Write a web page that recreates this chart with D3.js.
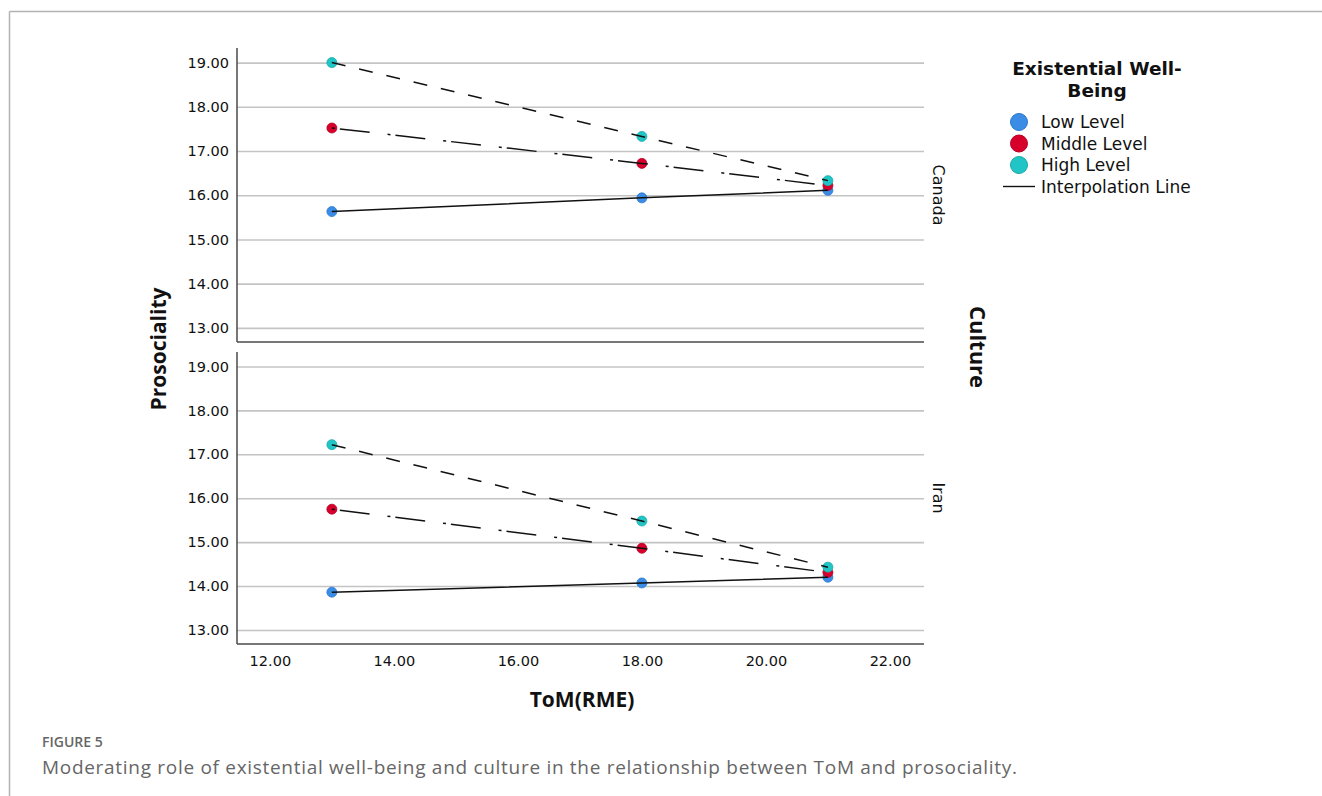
<!DOCTYPE html>
<html>
<head>
<meta charset="utf-8">
<script src="https://cdn.jsdelivr.net/npm/d3@7/dist/d3.min.js"></script>
<style>
  html, body { margin: 0; padding: 0; background: #fff; }
  svg { display: block; }
</style>
</head>
<body>
<svg id="chart" width="1322" height="796"></svg>
<script>
// ---- data ----
const tomValues = [13, 18, 21];
const cultures = ["Canada", "Iran"];
const levels = ["Low Level", "Middle Level", "High Level"];
const canadaLow = [15.63, 15.94, 16.11];
const canadaMiddle = [17.52, 16.72, 16.22];
const canadaHigh = [19.00, 17.33, 16.33];
const iranLow = [13.86, 14.07, 14.20];
const iranMiddle = [15.75, 14.86, 14.31];
const iranHigh = [17.22, 15.48, 14.43];
const yTicks = [13, 14, 15, 16, 17, 18, 19];
const xTicks = [12, 14, 16, 18, 20, 22];
const legendTitle = ["Existential Well-", "Being"];
const interpLabel = "Interpolation Line";
const xTitle = "ToM(RME)";
const yTitle = "Prosociality";
const facetTitle = "Culture";
const figLabel = "FIGURE 5";
const caption = "Moderating role of existential well-being and culture in the relationship between ToM and prosociality.";

const seriesByCulture = {
  Canada: [canadaLow, canadaMiddle, canadaHigh],
  Iran: [iranLow, iranMiddle, iranHigh]
};
const levelColors = ["#3a8ce4", "#d7002b", "#22c5c5"];
const levelStroke = ["#2c78cf", "#b80024", "#1aabab"];
const levelDash = [null, "3,5,30,18", "14,14"];

// ---- layout ----
const svg = d3.select("#chart");
const plotLeft = 237, plotRight = 924;
const panels = [{top: 48, bottom: 342}, {top: 352, bottom: 644}];
const tickFont = "'DejaVu Sans', Verdana, sans-serif";
const boldFont = "'Open Sans', sans-serif";

// frame (top and left edges)
svg.append("line").attr("x1", 9.5).attr("x2", 1322).attr("y1", 11.5).attr("y2", 11.5)
  .attr("stroke", "#b3b3b3").attr("stroke-width", 1.5);
svg.append("line").attr("x1", 9.5).attr("x2", 9.5).attr("y1", 11.5).attr("y2", 796)
  .attr("stroke", "#b3b3b3").attr("stroke-width", 1.5);

const x = d3.scaleLinear().domain([11.47, 22.55]).range([plotLeft, plotRight]);

cultures.forEach((c, ci) => {
  const p = panels[ci];
  const y = d3.scaleLinear().domain([12.68, 19.33]).range([p.bottom, p.top]);
  const g = svg.append("g");

  // y axis with gridlines
  const ya = g.append("g").attr("transform", `translate(${plotLeft},0)`)
    .call(d3.axisLeft(y).tickValues(yTicks).tickFormat(d3.format(".2f"))
      .tickSize(-(plotRight - plotLeft)).tickPadding(8));
  ya.select(".domain").remove();
  ya.selectAll(".tick line").attr("stroke", "#c4c4c4").attr("stroke-width", 1.6);
  ya.selectAll(".tick text").attr("font-family", tickFont).attr("font-size", 14.5)
    .attr("fill", "#111");

  // axis lines
  g.append("line").attr("x1", plotLeft).attr("x2", plotLeft).attr("y1", p.top).attr("y2", p.bottom)
    .attr("stroke", "#4a4a4a").attr("stroke-width", 1.5);
  g.append("line").attr("x1", plotLeft).attr("x2", plotRight).attr("y1", p.bottom).attr("y2", p.bottom)
    .attr("stroke", "#4a4a4a").attr("stroke-width", 1.5);

  const series = seriesByCulture[c];
  // points
  series.forEach((vals, li) => {
    g.selectAll(null).data(vals.map((v, i) => ({x: tomValues[i], y: v})))
      .enter().append("circle")
      .attr("cx", d => x(d.x)).attr("cy", d => y(d.y)).attr("r", 5)
      .attr("fill", levelColors[li]).attr("stroke", levelStroke[li]).attr("stroke-width", 0.8);
  });
  // lines
  const line = d3.line().x(d => x(d.x)).y(d => y(d.y));
  series.forEach((vals, li) => {
    g.append("path").datum(vals.map((v, i) => ({x: tomValues[i], y: v})))
      .attr("d", line).attr("fill", "none").attr("stroke", "#111").attr("stroke-width", 1.5)
      .attr("stroke-dasharray", levelDash[li]);
  });

  // panel label
  svg.append("text").attr("transform", `translate(933,${(p.top + p.bottom) / 2}) rotate(90)`)
    .attr("text-anchor", "middle").attr("font-family", tickFont).attr("font-size", 16)
    .attr("fill", "#111").text(c);
});

// x axis labels
const xa = svg.append("g").attr("transform", `translate(0,${panels[1].bottom})`)
  .call(d3.axisBottom(x).tickValues(xTicks).tickFormat(d3.format(".2f")).tickSize(0).tickPadding(12));
xa.select(".domain").remove();
xa.selectAll(".tick text").attr("font-family", tickFont).attr("font-size", 14.5).attr("fill", "#111");

// axis titles
svg.append("text").attr("x", 582).attr("y", 707).attr("text-anchor", "middle")
  .attr("font-family", boldFont).attr("font-weight", "bold").attr("font-size", 21)
  .attr("fill", "#111").text(xTitle);
svg.append("text").attr("transform", "translate(166,349) rotate(-90)").attr("text-anchor", "middle")
  .attr("font-family", boldFont).attr("font-weight", "bold").attr("font-size", 21)
  .attr("fill", "#111").text(yTitle);
svg.append("text").attr("transform", "translate(970,347) rotate(90)").attr("text-anchor", "middle")
  .attr("font-family", boldFont).attr("font-weight", "bold").attr("font-size", 22)
  .attr("fill", "#111").text(facetTitle);

// legend
const lg = svg.append("g");
legendTitle.forEach((t, i) => {
  lg.append("text").attr("x", 1097).attr("y", 75 + i * 22).attr("text-anchor", "middle")
    .attr("font-family", tickFont).attr("font-weight", "bold").attr("font-size", 18.5)
    .attr("fill", "#111").text(t);
});
levels.forEach((l, i) => {
  const cy = 122 + i * 21.5;
  lg.append("circle").attr("cx", 1019).attr("cy", cy).attr("r", 8.5)
    .attr("fill", levelColors[i]).attr("stroke", levelStroke[i]).attr("stroke-width", 1);
  lg.append("text").attr("x", 1041).attr("y", cy + 6).attr("font-family", tickFont)
    .attr("font-size", 17).attr("fill", "#111").text(l);
});
lg.append("line").attr("x1", 1003).attr("x2", 1035).attr("y1", 186.5).attr("y2", 186.5)
  .attr("stroke", "#111").attr("stroke-width", 1.4);
lg.append("text").attr("x", 1041).attr("y", 192.5).attr("font-family", tickFont)
  .attr("font-size", 17).attr("fill", "#111").text(interpLabel);

// caption
svg.append("text").attr("x", 42).attr("y", 747).attr("font-family", boldFont)
  .attr("font-weight", 600).attr("font-size", 14).attr("fill", "#666").text(figLabel);
svg.append("text").attr("x", 42).attr("y", 774).attr("font-family", boldFont)
  .attr("font-size", 19).attr("letter-spacing", 0.7).attr("fill", "#666").text(caption);
</script>
</body>
</html>
